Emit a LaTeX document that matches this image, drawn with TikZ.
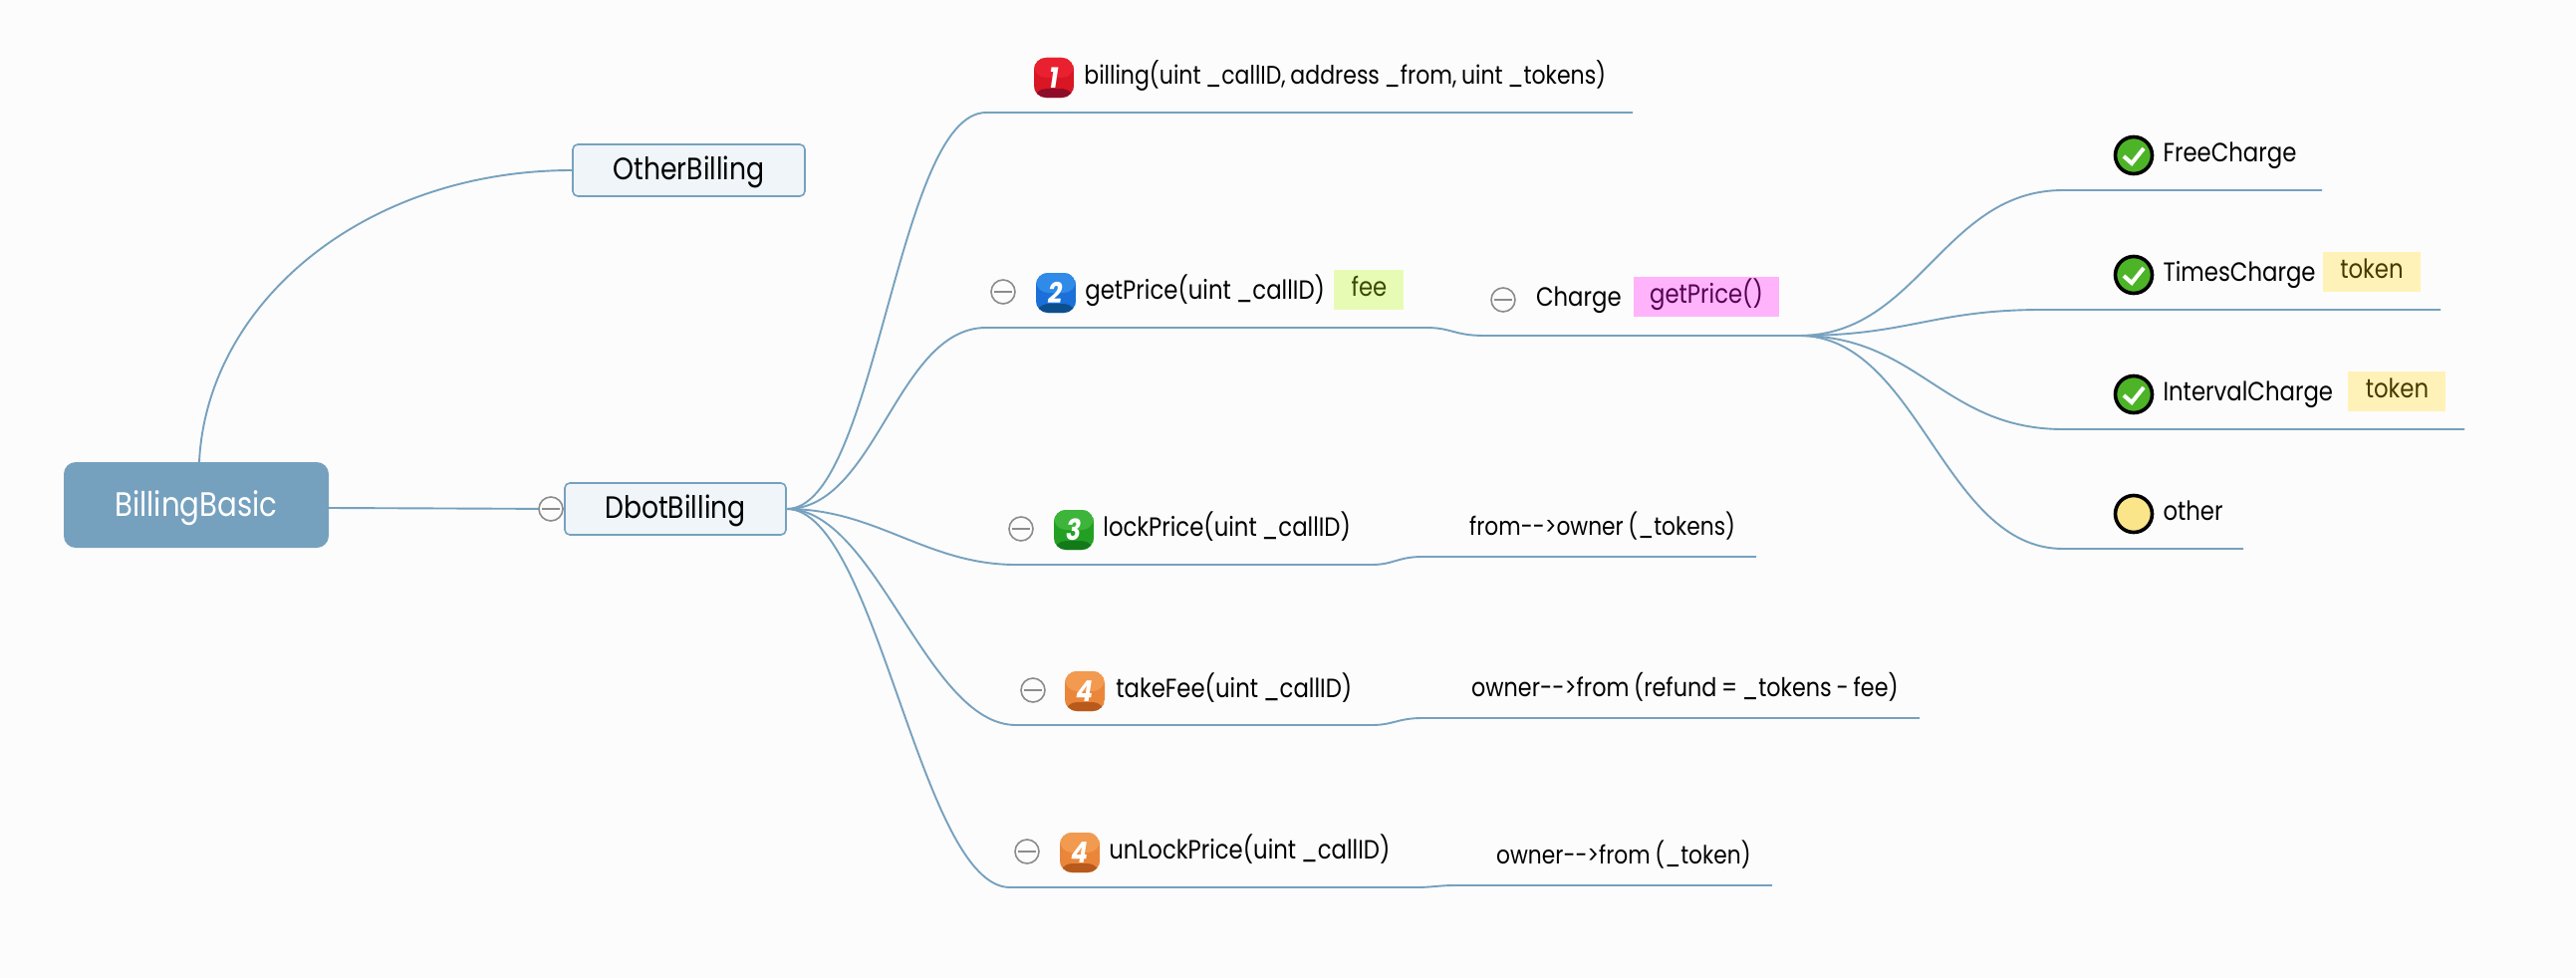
\documentclass[tikz,border=0pt]{standalone}
\usepackage{fontspec}
\setmainfont[FakeStretch=0.86,WordSpace=0.8]{Poppins}
\usetikzlibrary{positioning}
\definecolor{pagebg}{HTML}{FCFCFC}
\definecolor{branchcol}{HTML}{76A1BE}
\definecolor{subfill}{HTML}{EFF5F8}
\definecolor{redTop}{HTML}{E9202F}
\definecolor{redMid}{HTML}{D81624}
\definecolor{redLow}{HTML}{8E0C28}
\definecolor{blueTop}{HTML}{2F8AE8}
\definecolor{blueMid}{HTML}{1A70D8}
\definecolor{blueLow}{HTML}{0B4F8C}
\definecolor{greenTop}{HTML}{3DB53A}
\definecolor{greenMid}{HTML}{23A024}
\definecolor{greenLow}{HTML}{137A1A}
\definecolor{orangeTop}{HTML}{F29A50}
\definecolor{orangeMid}{HTML}{EA863A}
\definecolor{orangeLow}{HTML}{B85A1C}
\definecolor{tickGreen}{HTML}{4DB427}
\definecolor{tickYellow}{HTML}{FBE58A}
\definecolor{feeFill}{HTML}{E8FBB5}
\definecolor{feeText}{HTML}{3A4A00}
\definecolor{priceFill}{HTML}{FFB3FB}
\definecolor{priceText}{HTML}{550050}
\definecolor{tokenFill}{HTML}{FFF2B8}
\definecolor{tokenText}{HTML}{4A3800}
\tikzset{
  branch/.style={draw=branchcol, line width=1.9pt},
  root/.style={fill=branchcol, text=white, rounded corners=12pt, minimum width=266pt, minimum height=86pt, inner sep=0pt, text height=30pt, text depth=7pt, font=\fontsize{34}{38}\selectfont},
  sub/.style={draw=branchcol, line width=1.6pt, fill=subfill, rounded corners=5pt, minimum height=52pt, inner sep=0pt, text height=25.5pt, text depth=6pt, font=\fontsize{31}{36}\selectfont},
  label/.style={inner sep=0pt, text height=19pt, text depth=6pt, font=\fontsize{26.5}{30}\selectfont},
  flow/.style={label, anchor=west, font=\fontsize{#1}{30}\selectfont},
  tag/.style={inner sep=0pt, minimum height=40pt, text height=19pt, text depth=6pt, yshift=3pt, font=\fontsize{26.5}{30}\selectfont},
  minus/.style={circle, draw=gray!90, line width=1.6pt, fill=pagebg, minimum size=24pt, inner sep=0pt,
    path picture={\draw[gray!90, line width=2.4pt] ([xshift=3pt]path picture bounding box.west) -- ([xshift=-3pt]path picture bounding box.east);}},
  badge/.style={rounded corners=12pt, minimum size=40pt, inner sep=0pt, text=white, font=\fontsize{29}{30}\bfseries\itshape\selectfont, text height=21pt,
    path picture={
      \fill[#1Mid] (path picture bounding box.south west) rectangle (path picture bounding box.north east);
      \fill[#1Top] (path picture bounding box.west) rectangle (path picture bounding box.north east);
      \fill[#1Low] (path picture bounding box.south west) rectangle ([yshift=9pt]path picture bounding box.south east);
    }},
  tick/.style={circle, draw=black, line width=3.6pt, fill=#1, minimum size=37pt, inner sep=0pt},
  check/.style={white, line width=4pt},
}
\begin{document}
\begin{tikzpicture}[x=1pt, y=-1pt]
  \useasboundingbox [fill=pagebg] (0,0) rectangle (2586,982);

  \node [root] (root) at (197,507) {BillingBasic};
  \node [sub, minimum width=233pt] (other) at (691.5,171) {OtherBilling};
  \node [sub, minimum width=222pt] (dbot) at (678,511) {DbotBilling};

  % branch ends
  \coordinate (billingA) at (990,113);
  \coordinate (billingB) at (1639,113);
  \coordinate (priceA) at (990,329);
  \coordinate (priceB) at (1432,329);
  \coordinate (chargeA) at (1490,337);
  \coordinate (chargeB) at (1806,337);
  \coordinate (lockA) at (1020,567);
  \coordinate (lockB) at (1377,567);
  \coordinate (lockC) at (1428,559);
  \coordinate (lockD) at (1763,559);
  \coordinate (feeA) at (1020,728);
  \coordinate (feeB) at (1377,728);
  \coordinate (feeC) at (1428,721);
  \coordinate (feeD) at (1927,721);
  \coordinate (unlockA) at (1014,891);
  \coordinate (unlockB) at (1422,891);
  \coordinate (unlockC) at (1460,889);
  \coordinate (unlockD) at (1779,889);
  \coordinate (freeA) at (2071,191);
  \coordinate (freeB) at (2331,191);
  \coordinate (timesA) at (2050,311);
  \coordinate (timesB) at (2450,311);
  \coordinate (intervalA) at (2071,431);
  \coordinate (intervalB) at (2474,431);
  \coordinate (otherA) at (2071,551);
  \coordinate (otherB) at (2252,551);

  \draw [branch] ([yshift=-3pt]root.east) -- (dbot.west);
  \draw [branch] ([xshift=3pt]root.north) .. controls (208,303) and (367,171) .. (other.west);
  \draw [branch] (dbot.east) .. controls +(90,0) and +(-90,0) .. (billingA) -- (billingB);
  \draw [branch] (dbot.east) .. controls +(90,0) and +(-90,0) .. (priceA) -- (priceB)
    .. controls +(25,0) and +(-30,0) .. (chargeA) -- (chargeB);
  \draw [branch] (dbot.east) .. controls +(90,0) and +(-90,0) .. (lockA) -- (lockB)
    .. controls +(22,0) and +(-25,0) .. (lockC) -- (lockD);
  \draw [branch] (dbot.east) .. controls +(90,0) and +(-90,0) .. (feeA) -- (feeB)
    .. controls +(22,0) and +(-25,0) .. (feeC) -- (feeD);
  \draw [branch] (dbot.east) .. controls +(90,0) and +(-90,0) .. (unlockA) -- (unlockB)
    .. controls +(15,0) and +(-15,0) .. (unlockC) -- (unlockD);
  \draw [branch] (chargeB) .. controls +(120,0) and +(-120,0) .. (freeA) -- (freeB);
  \draw [branch] (chargeB) .. controls +(110,0) and +(-110,0) .. (timesA) -- (timesB);
  \draw [branch] (chargeB) .. controls +(120,0) and +(-120,0) .. (intervalA) -- (intervalB);
  \draw [branch] (chargeB) .. controls +(120,0) and +(-120,0) .. (otherA) -- (otherB);

  \node [minus] (minusDbot) at (553,511) {};
  \node [minus] (minusPrice) at (1007,293) {};
  \node [minus] (minusCharge) at (1509,301) {};
  \node [minus] (minusLock) at (1025,531) {};
  \node [minus] (minusFee) at (1037,693) {};
  \node [minus] (minusUnlock) at (1031,855) {};

  \node [badge=red] (badgeBilling) at (1058,78) {1};
  \node [badge=blue] (badgePrice) at (1060,294) {2};
  \node [badge=green] (badgeLock) at (1078,532) {3};
  \node [badge=orange] (badgeFee) at (1089,694) {4};
  \node [badge=orange] (badgeUnlock) at (1084,856) {4};

  \node [flow=25.6, right=10pt of badgeBilling] (billing) {billing(uint \_callID, address \_from, uint \_tokens)};
  \node [label, right=9pt of badgePrice] (price) {getPrice(uint \_callID)};
  \node [tag, fill=feeFill, text=feeText, minimum width=70pt, right=9pt of price] (fee) {fee};
  \node [label, right=20pt of minusCharge] (charge) {Charge};
  \node [tag, fill=priceFill, text=priceText, minimum width=146pt, right=12pt of charge] (chargeTag) {getPrice()};
  \node [label, right=9pt of badgeLock] (lock) {lockPrice(uint \_callID)};
  \node [flow=25.3] (lockText) at (1475,531) {from-{}->owner (\_tokens)};
  \node [label, right=11pt of badgeFee] (takeFee) {takeFee(uint \_callID)};
  \node [flow=25.9] (feeText) at (1477,693) {owner-{}->from (refund = \_tokens - fee)};
  \node [label, right=9pt of badgeUnlock] (unlock) {unLockPrice(uint \_callID)};
  \node [flow=25.3] (unlockText) at (1502,861) {owner-{}->from (\_token)};

  \node [tick=tickGreen] (tickFree) at (2142,156) {};
  \node [tick=tickGreen] (tickTimes) at (2142,276) {};
  \node [tick=tickGreen] (tickInterval) at (2142,396) {};
  \node [tick=tickYellow] (tickOther) at (2142,516) {};
  \draw [check] ([shift={(-10,1)}]tickFree.center) -- ([shift={(-2,8)}]tickFree.center) -- ([shift={(10,-7)}]tickFree.center);
  \draw [check] ([shift={(-10,1)}]tickTimes.center) -- ([shift={(-2,8)}]tickTimes.center) -- ([shift={(10,-7)}]tickTimes.center);
  \draw [check] ([shift={(-10,1)}]tickInterval.center) -- ([shift={(-2,8)}]tickInterval.center) -- ([shift={(10,-7)}]tickInterval.center);

  \node [label, right=9pt of tickFree] (free) {FreeCharge};
  \node [label, right=9pt of tickTimes] (times) {TimesCharge};
  \node [tag, fill=tokenFill, text=tokenText, minimum width=98pt, right=7pt of times] (timesTag) {token};
  \node [label, right=9pt of tickInterval] (interval) {IntervalCharge};
  \node [tag, fill=tokenFill, text=tokenText, minimum width=98pt, right=15pt of interval] (intervalTag) {token};
  \node [label, right=9pt of tickOther] (otherText) {other};
\end{tikzpicture}
\end{document}
